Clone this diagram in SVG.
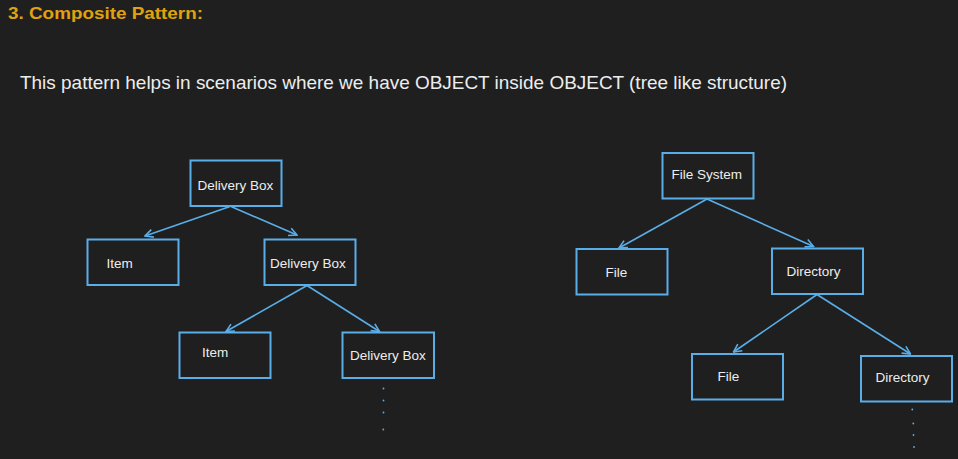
<svg xmlns="http://www.w3.org/2000/svg" width="958" height="459" viewBox="0 0 958 459">
<defs>
<style>
.bg{fill:#1f1f1f}
.title{font-family:"Liberation Sans",Arial,sans-serif;font-weight:bold;font-size:17px;fill:#E0A210}
.sub{font-family:"Liberation Sans",Arial,sans-serif;font-size:18.5px;fill:#EDEDED}
.box{fill:none;stroke:#5AAEE8;stroke-width:2}
.lbl{font-family:"Liberation Sans",Arial,sans-serif;font-size:13.5px;fill:#EDEDED}
.con{stroke:#5AAEE8;stroke-width:1.6;fill:none}
.dot{fill:#5AAEE8}
</style>
<marker id="arr" viewBox="0 0 10 10" refX="9" refY="5" markerWidth="10" markerHeight="10" markerUnits="userSpaceOnUse" orient="auto">
<path d="M1,1 L9,5 L1,9" fill="none" stroke="#5AAEE8" stroke-width="1.6"/>
</marker>
</defs>
<rect class="bg" x="0" y="0" width="958" height="459"/>
<text class="title" x="8" y="18.5" textLength="195" lengthAdjust="spacingAndGlyphs">3.  Composite Pattern:</text>
<text class="sub" x="20" y="89" textLength="767" lengthAdjust="spacingAndGlyphs">This pattern helps in scenarios where we have OBJECT inside OBJECT (tree like structure)</text>

<g id="connectors">
<line class="con" x1="230" y1="206.5" x2="145" y2="236" marker-end="url(#arr)"/>
<line class="con" x1="231" y1="206.5" x2="297" y2="235" marker-end="url(#arr)"/>
<line class="con" x1="307" y1="285.5" x2="226" y2="331.5" marker-end="url(#arr)"/>
<line class="con" x1="307" y1="285.5" x2="379.5" y2="331.5" marker-end="url(#arr)"/>
<line class="con" x1="707" y1="199" x2="619" y2="248" marker-end="url(#arr)"/>
<line class="con" x1="707" y1="199" x2="813.5" y2="246.5" marker-end="url(#arr)"/>
<line class="con" x1="817" y1="294.5" x2="733.5" y2="352" marker-end="url(#arr)"/>
<line class="con" x1="817" y1="294.5" x2="910.5" y2="354" marker-end="url(#arr)"/>
<circle class="dot" cx="383.5" cy="388.5" r="0.9"/>
<circle class="dot" cx="383.5" cy="400.5" r="0.9"/>
<circle class="dot" cx="383.5" cy="412.5" r="0.9"/>
<circle class="dot" cx="383.3" cy="429.5" r="0.9"/>
<circle class="dot" cx="912.3" cy="409.5" r="0.9"/>
<circle class="dot" cx="913.3" cy="423.5" r="0.9"/>
<circle class="dot" cx="913.5" cy="435" r="0.9"/>
<circle class="dot" cx="914" cy="447" r="0.9"/>
</g>

<g id="n-delivery-box-root">
<rect class="box" x="190.5" y="160.5" width="91" height="45.5"/>
<text class="lbl" x="197.5" y="189.5">Delivery Box</text>
</g>
<g id="n-item-1">
<rect class="box" x="87.5" y="239.5" width="91" height="45.5"/>
<text class="lbl" x="106.5" y="267.5">Item</text>
</g>
<g id="n-delivery-box-2">
<rect class="box" x="264.5" y="239.5" width="91" height="45.5"/>
<text class="lbl" x="270" y="267.5">Delivery Box</text>
</g>
<g id="n-item-2">
<rect class="box" x="179.5" y="332.5" width="91" height="45.5"/>
<text class="lbl" x="202" y="356.5">Item</text>
</g>
<g id="n-delivery-box-3">
<rect class="box" x="342.5" y="332.5" width="91.5" height="45.5"/>
<text class="lbl" x="350" y="359.5">Delivery Box</text>
</g>

<g id="n-file-system">
<rect class="box" x="662.5" y="153" width="91" height="45.5"/>
<text class="lbl" x="671.5" y="178.5">File System</text>
</g>
<g id="n-file-1">
<rect class="box" x="576.5" y="249" width="91" height="45.5"/>
<text class="lbl" x="605.5" y="277">File</text>
</g>
<g id="n-directory-1">
<rect class="box" x="772" y="248.5" width="91" height="45.5"/>
<text class="lbl" x="786.5" y="275.5">Directory</text>
</g>
<g id="n-file-2">
<rect class="box" x="692" y="354" width="91" height="45.5"/>
<text class="lbl" x="717.5" y="380.5">File</text>
</g>
<g id="n-directory-2">
<rect class="box" x="861" y="356" width="91" height="45.5"/>
<text class="lbl" x="875.5" y="381.5">Directory</text>
</g>
</svg>
